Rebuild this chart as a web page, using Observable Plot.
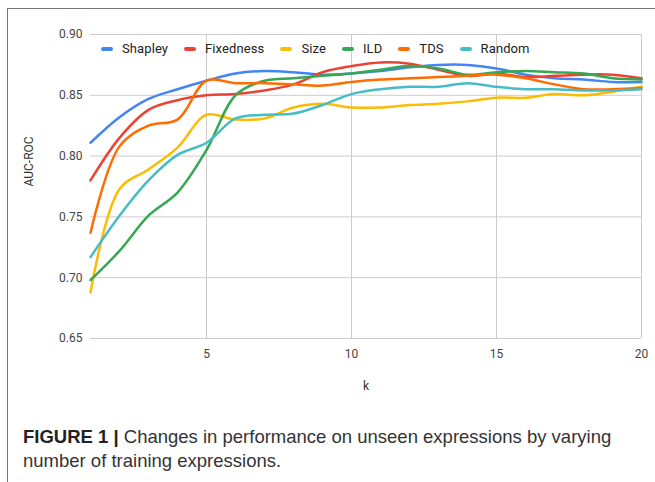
<!DOCTYPE html>
<html>
<head>
<meta charset="utf-8">
<script src="https://cdn.jsdelivr.net/npm/d3@7"></script>
<script src="https://cdn.jsdelivr.net/npm/@observablehq/plot@0.6"></script>
<style>
  html, body { margin: 0; padding: 0; background: #fff; }
  #wrap { position: relative; width: 655px; height: 482px; overflow: hidden; background: #fff; }
  #frame { position: absolute; left: 7px; top: 8px; width: 660px; height: 480px; border-top: 1px solid #777; border-left: 1px solid #777; }
  #chart { position: absolute; left: 0; top: 0; }
  #legend { position: absolute; left: 101px; top: 41px; display: flex; align-items: center; font-family: Roboto, sans-serif; font-size: 13px; color: #222; letter-spacing: 0.1px; }
  #legend .item { display: flex; align-items: center; margin-right: 16px; }
  #legend .sw { width: 12px; height: 4px; border-radius: 2px; margin-right: 9px; }
  #caption { position: absolute; left: 23px; top: 425px; font-family: "Liberation Sans", Arial, sans-serif; font-size: 18.5px; line-height: 24px; color: #333; }
  #caption b { color: #222; }
</style>
</head>
<body>
<div id="wrap">
  <div id="frame"></div>
  <div id="chart"></div>
  <div id="legend"></div>
  <div id="caption"><b>FIGURE 1 |</b> Changes in performance on unseen expressions by varying<br>number of training expressions.</div>
</div>
<script>
const k = [1,2,3,4,5,6,7,8,9,10,11,12,13,14,15,16,17,18,19,20];
const seriesNames = ["Shapley","Fixedness","Size","ILD","TDS","Random"];
const seriesColors = ["#4285F4","#EA4335","#FBBC04","#34A853","#FF6D01","#46BDC6"];
const shapley   = [0.811,0.832,0.847,0.855,0.862,0.868,0.870,0.869,0.867,0.868,0.870,0.873,0.875,0.875,0.872,0.867,0.864,0.863,0.861,0.861];
const fixedness = [0.780,0.815,0.838,0.846,0.850,0.851,0.854,0.859,0.869,0.874,0.877,0.876,0.871,0.866,0.868,0.865,0.866,0.867,0.867,0.864];
const size      = [0.688,0.773,0.789,0.807,0.834,0.830,0.831,0.840,0.843,0.840,0.840,0.842,0.843,0.845,0.848,0.848,0.851,0.850,0.853,0.857];
const ild       = [0.698,0.722,0.751,0.770,0.805,0.850,0.862,0.864,0.866,0.868,0.871,0.874,0.872,0.867,0.869,0.870,0.869,0.868,0.864,0.863];
const tds       = [0.737,0.808,0.825,0.830,0.862,0.860,0.860,0.859,0.858,0.861,0.863,0.864,0.865,0.866,0.867,0.864,0.859,0.855,0.855,0.856];
const random    = [0.717,0.751,0.780,0.801,0.811,0.831,0.834,0.835,0.842,0.851,0.855,0.857,0.857,0.860,0.857,0.855,0.855,0.854,0.854,0.855];
const yTicks = [0.65,0.70,0.75,0.80,0.85,0.90];
const xTicks = [5,10,15,20];

const allSeries = [shapley, fixedness, size, ild, tds, random];
const rows = [];
allSeries.forEach((vals, i) => vals.forEach((v, j) => rows.push({k: k[j], v, s: seriesNames[i]})));

const chart = Plot.plot({
  width: 655,
  height: 400,
  marginLeft: 90,
  marginRight: 14,
  marginTop: 34,
  marginBottom: 62,
  style: { fontFamily: "Roboto, sans-serif", fontSize: "12px", color: "#444", background: "transparent" },
  x: { domain: [1, 20] },
  y: { domain: [0.65, 0.90] },
  color: { domain: seriesNames, range: seriesColors },
  marks: [
    Plot.gridY(yTicks, { stroke: "#ccc", strokeOpacity: 1 }),
    Plot.gridX(xTicks, { stroke: "#ccc", strokeOpacity: 1 }),
    Plot.axisY(yTicks, { tickSize: 0, tickPadding: 8, tickFormat: d3.format(".2f"), label: null, fill: "#444" }),
    Plot.axisX(xTicks, { tickSize: 0, tickPadding: 11, label: null, fill: "#444" }),
    Plot.text(["AUC-ROC"], { frameAnchor: "left", dx: -61, rotate: -90, fill: "#333", fontSize: 12 }),
    Plot.text(["k"], { frameAnchor: "bottom", dy: 51, fill: "#333", fontSize: 12 }),
    Plot.line(rows, { x: "k", y: "v", z: "s", stroke: "s", strokeWidth: 2.5, curve: "catmull-rom" })
  ]
});
document.getElementById("chart").appendChild(chart);

const legend = document.getElementById("legend");
seriesNames.forEach((n, i) => {
  const it = document.createElement("div");
  it.className = "item";
  it.innerHTML = `<span class="sw" style="background:${seriesColors[i]}"></span><span>${n}</span>`;
  legend.appendChild(it);
});
</script>
</body>
</html>
